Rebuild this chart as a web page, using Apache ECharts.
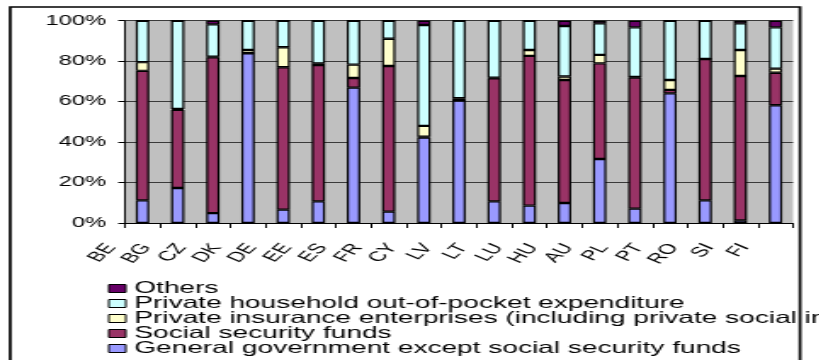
<!DOCTYPE html>
<html>
<head>
<meta charset="utf-8">
<script src="https://cdn.jsdelivr.net/npm/echarts@6/dist/echarts.min.js"></script>
<style>
  html, body { margin: 0; padding: 0; background: #fff; overflow: hidden; }
  #wrap { width: 819px; height: 360px; overflow: hidden; }
  /* the reference picture is stretched sideways, so draw narrow and stretch */
  #chart { width: 482px; height: 360px; transform: scaleX(1.7); transform-origin: 0 0; }
</style>
</head>
<body>
<div id="wrap"><div id="chart"></div></div>
<script>
// countries, left to right
const countries = ['BE', 'BG', 'CZ', 'DK', 'DE', 'EE', 'ES', 'FR', 'CY', 'LV',
  'LT', 'LU', 'HU', 'AU', 'PL', 'PT', 'RO', 'SI', 'FI'];

// shares in % (stacked bottom to top)
const generalGov =  [11.2, 17.3, 4.9, 83.9, 6.6, 10.7, 66.9, 5.6, 42.3, 60.5, 10.7, 8.6, 9.9, 31.6, 7.1, 64.1, 11.2, 1.3, 58.2];
const socialSec =   [64.0, 38.6, 77.0, 0, 70.4, 67.4, 4.8, 72.0, 0.3, 0, 60.8, 74.0, 60.8, 47.3, 64.8, 1.7, 69.9, 71.4, 16.1];
const privInsur =   [4.3, 0.5, 0.3, 1.6, 9.9, 0.8, 6.6, 13.5, 5.4, 1.2, 0.3, 2.9, 1.7, 4.2, 0.3, 4.9, 0, 12.8, 2.0];
const outOfPocket = [20.5, 43.6, 16.0, 14.5, 13.1, 21.1, 21.7, 8.9, 49.9, 38.3, 28.2, 14.5, 25.0, 15.6, 24.5, 29.3, 18.9, 13.2, 20.4];
const others =      [0, 0, 1.8, 0, 0, 0, 0, 0, 2.1, 0, 0, 0, 2.6, 1.3, 3.3, 0, 0, 1.3, 3.3];

const yTicks = [0, 20, 40, 60, 80, 100];

const names = {
  gg: 'General government except social security funds',
  ss: 'Social security funds',
  pi: 'Private insurance enterprises (including private social insurance)',
  op: 'Private household out-of-pocket expenditure',
  ot: 'Others'
};

const font = "'Liberation Sans', Arial, sans-serif";

function barSeries(name, data, color) {
  return {
    name: name,
    type: 'bar',
    stack: 'all',
    barWidth: '38%',
    data: data,
    itemStyle: { color: color, borderColor: '#000', borderWidth: 1.2 },
    emphasis: { disabled: true }
  };
}

const chart = echarts.init(document.getElementById('chart'), null, { renderer: 'canvas' });

chart.setOption({
  animation: false,
  textStyle: { fontFamily: font },
  grid: {
    left: 73.5, right: 15.5, top: 20.7, bottom: 137,
    show: true, backgroundColor: '#c0c0c0', borderWidth: 0
  },
  graphic: [{
    type: 'rect',
    shape: { x: 6, y: 7, width: 464.6, height: 400 },
    style: { fill: 'none', stroke: '#000', lineWidth: 1.7 },
    silent: true, z: 100
  }],
  legend: {
    orient: 'vertical',
    left: 63.5, top: 280, padding: 0, height: 200,
    itemWidth: 10, itemHeight: 8, itemGap: -2,
    icon: 'rect',
    data: [names.ot, names.op, names.pi, names.ss, names.gg],
    itemStyle: { borderColor: '#000', borderWidth: 1 },
    textStyle: { fontFamily: font, fontSize: 16.5, color: '#000', lineHeight: 13 }
  },
  xAxis: {
    type: 'category',
    data: countries,
    axisLine: { lineStyle: { color: '#000', width: 1 } },
    axisTick: { show: true, length: 5, lineStyle: { color: '#000' } },
    axisLabel: {
      interval: 0, rotate: 55, margin: -4, color: '#000', fontSize: 14, fontFamily: font,
      padding: [0, 32, 0, 0]
    }
  },
  yAxis: {
    type: 'value',
    min: yTicks[0], max: yTicks[yTicks.length - 1], interval: 20,
    axisLine: { show: true, lineStyle: { color: '#000', width: 1 } },
    axisTick: { show: true, length: 4, lineStyle: { color: '#000' } },
    axisLabel: { formatter: '{value}%', color: '#000', fontSize: 14, margin: 11, fontFamily: font },
    splitLine: { lineStyle: { color: '#3a3a3a', width: 1 } }
  },
  series: [
    barSeries(names.gg, generalGov, '#9999ff'),
    barSeries(names.ss, socialSec, '#993366'),
    barSeries(names.pi, privInsur, '#ffffcc'),
    barSeries(names.op, outOfPocket, '#ccffff'),
    barSeries(names.ot, others, '#660066')
  ]
});
</script>
</body>
</html>
